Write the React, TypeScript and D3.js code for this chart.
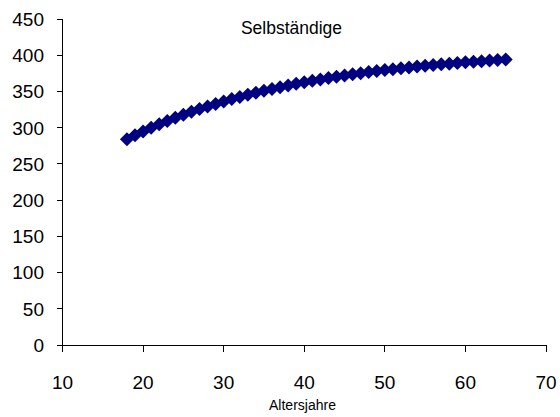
import React from "react";
import * as d3 from "d3";

// Age in years (x) and the corresponding value for the self-employed series (y)
const ages: number[] = [
  18, 19, 20, 21, 22, 23, 24, 25, 26, 27, 28, 29, 30, 31, 32, 33,
  34, 35, 36, 37, 38, 39, 40, 41, 42, 43, 44, 45, 46, 47, 48, 49,
  50, 51, 52, 53, 54, 55, 56, 57, 58, 59, 60, 61, 62, 63, 64, 65,
];
const values: number[] = [
  284.0, 289.5, 294.8, 299.8, 304.6, 309.2, 313.6, 317.8, 321.8, 325.7, 329.3, 332.8,
  336.2, 339.4, 342.5, 345.4, 348.2, 350.9, 353.4, 355.9, 358.2, 360.5, 362.6, 364.7,
  366.6, 368.5, 370.3, 372.0, 373.6, 375.2, 376.7, 378.1, 379.5, 380.8, 382.0, 383.2,
  384.3, 385.4, 386.5, 387.5, 388.4, 389.3, 390.2, 391.0, 391.8, 392.6, 393.3, 394.0,
];
const xTicks: number[] = [10, 20, 30, 40, 50, 60, 70];
const yTicks: number[] = [0, 50, 100, 150, 200, 250, 300, 350, 400, 450];
const title = "Selbständige";
const xLabel = "Altersjahre";

const W = 560;
const H = 417;
const FONT = "'Liberation Sans', Arial, sans-serif";
const MARKER = "#000080";

export default function App() {
  const x = d3.scaleLinear().domain([10, 70]).range([62.5, 546]);
  const y = d3.scaleLinear().domain([0, 450]).range([345, 19]);
  const r = 7;

  const points = ages.map((a, i) => ({ a, v: values[i] }));

  return (
    <svg
      width={W}
      height={H}
      style={{ position: "absolute", left: 0, top: 0, background: "#fff" }}
      fontFamily={FONT}
    >
      <rect width={W} height={H} fill="#fff" />

      {/* title */}
      <text x={291.5} y={34} fontSize={17.5} textAnchor="middle" fill="#000">
        {title}
      </text>

      {/* y axis */}
      <g>
        <line x1={x(10)} x2={x(10)} y1={y(450)} y2={y(0)} stroke="#000" strokeWidth={1} shapeRendering="crispEdges" />
        {yTicks.map((t) => (
          <g key={`y${t}`}>
            <line x1={x(10) - 6} x2={x(10)} y1={y(t)} y2={y(t)} stroke="#000" strokeWidth={1} shapeRendering="crispEdges" />
            <text x={44} y={y(t)} dy="0.36em" fontSize={19} textAnchor="end" fill="#000">
              {t}
            </text>
          </g>
        ))}
      </g>

      {/* x axis */}
      <g>
        <line x1={x(10)} x2={x(70)} y1={y(0)} y2={y(0)} stroke="#000" strokeWidth={1} shapeRendering="crispEdges" />
        {xTicks.map((t) => (
          <g key={`x${t}`}>
            <line x1={x(t)} x2={x(t)} y1={y(0)} y2={y(0) + 7} stroke="#000" strokeWidth={1} shapeRendering="crispEdges" />
            <text x={x(t)} y={389} fontSize={19} textAnchor="middle" fill="#000">
              {t}
            </text>
          </g>
        ))}
        <text x={302.5} y={409.5} fontSize={14} textAnchor="middle" fill="#000">
          {xLabel}
        </text>
      </g>

      {/* diamond markers */}
      <g fill={MARKER}>
        {points.map((p) => {
          const cx = x(p.a);
          const cy = y(p.v);
          return (
            <path
              key={p.a}
              d={`M${cx},${cy - r}L${cx + r},${cy}L${cx},${cy + r}L${cx - r},${cy}Z`}
            />
          );
        })}
      </g>
    </svg>
  );
}
